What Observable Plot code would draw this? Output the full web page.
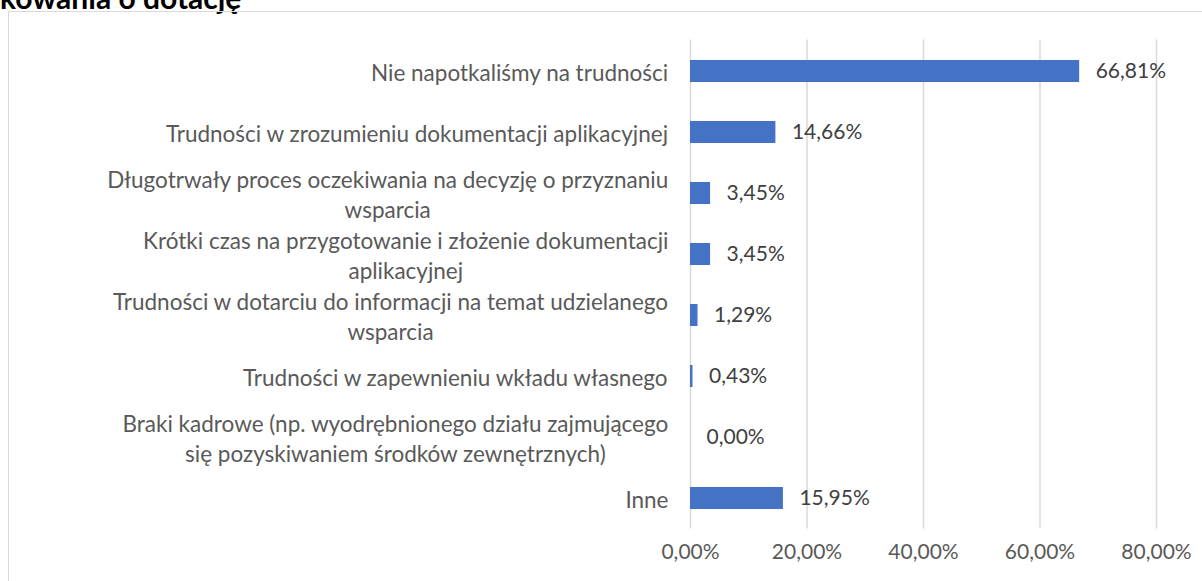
<!DOCTYPE html>
<html>
<head>
<meta charset="utf-8">
<script src="https://cdn.jsdelivr.net/npm/d3@7"></script>
<script src="https://cdn.jsdelivr.net/npm/@observablehq/plot@0.6"></script>
<style>
  html, body { margin: 0; padding: 0; background: #fff; overflow: hidden; }
  #wrap { position: relative; width: 1202px; height: 581px; overflow: hidden; font-family: Lato, sans-serif; }
  #title { position: absolute; left: 0; top: -21px; font-size: 30px; font-weight: bold; color: #000; white-space: nowrap; }
  #box { position: absolute; left: 8px; top: 11px; width: 1400px; height: 800px; border: 1.5px solid #d9d9d9; box-sizing: border-box; }
  #chart { position: absolute; left: 0; top: 0; }
</style>
</head>
<body>
<div id="wrap">
  <div id="title">kowania o dotację</div>
  <div id="box"></div>
  <div id="chart"></div>
</div>
<script>
const categories = [
  "Nie napotkaliśmy na trudności",
  "Trudności w zrozumieniu dokumentacji aplikacyjnej",
  "Długotrwały proces oczekiwania na decyzję o przyznaniu\nwsparcia",
  "Krótki czas na przygotowanie i złożenie dokumentacji\naplikacyjnej",
  "Trudności w dotarciu do informacji na temat udzielanego\nwsparcia",
  "Trudności w zapewnieniu wkładu własnego",
  "Braki kadrowe (np. wyodrębnionego działu zajmującego\nsię pozyskiwaniem środków zewnętrznych)",
  "Inne"
];
const values = [66.81, 14.66, 3.45, 3.45, 1.29, 0.43, 0.00, 15.95];
const xTicks = [0, 20, 40, 60, 80];

const data = categories.map((c, i) => ({category: c, value: values[i]}));
const fmt = v => v.toFixed(2).replace(".", ",") + "%";

const labelFont = 22.5;
const ctx = document.createElement("canvas").getContext("2d");
ctx.font = `${labelFont}px Lato`;
const blockWidth = s => Math.max(...s.split("\n").map(l => ctx.measureText(l).width));

const labelMarks = data.map(d => Plot.text([d], {
  y: "category",
  text: "category",
  frameAnchor: "left",
  textAnchor: "middle",
  lineAnchor: "middle",
  lineHeight: 1.33,
  dx: -(22 + blockWidth(d.category) / 2),
  fill: "#595959",
  fontSize: labelFont
}));

const plot = Plot.plot({
  width: 1202,
  height: 581,
  marginLeft: 690,
  marginRight: 46,
  marginTop: 39.4,
  marginBottom: 52.4,
  style: {fontFamily: "Lato, sans-serif", fontSize: "21px", color: "#595959", background: "transparent"},
  x: {domain: [0, 80]},
  y: {domain: categories, paddingInner: 0.64, paddingOuter: 0.32, axis: null},
  marks: [
    Plot.gridX(xTicks, {stroke: "#d9d9d9", strokeOpacity: 1, strokeWidth: 1.5}),
    Plot.axisX({ticks: xTicks, tickSize: 0, tickPadding: 15, tickFormat: fmt, fill: "#595959", fontSize: 21, label: null}),
    ...labelMarks,
    Plot.barX(data, {x: "value", y: "category", fill: "#4472c4"}),
    Plot.text(data, {x: "value", y: "category", text: d => fmt(d.value), textAnchor: "start", dx: 16, fill: "#404040", fontSize: 21})
  ]
});
document.getElementById("chart").appendChild(plot);
</script>
</body>
</html>
